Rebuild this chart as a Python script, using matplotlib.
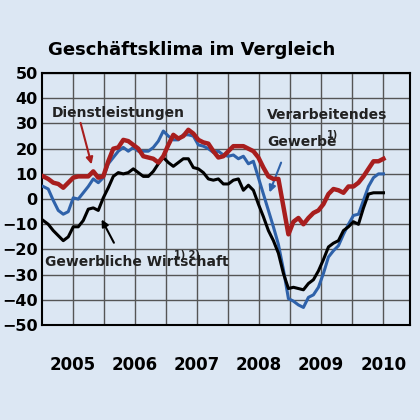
import numpy as np
import matplotlib.pyplot as plt

# monthly readings, Jan 2005 onward
dienst = [9, 8, 6.5, 6, 4.5, 6.5, 8.5, 9, 9, 9, 11, 8.5, 9, 15, 20, 20.5, 23.5, 23, 21.5, 20,
          17, 16.5, 16, 14.5, 17, 21.5, 25.5, 24, 25, 27.5, 26, 23.5, 22.5, 22, 19, 16.5, 17, 19,
          21, 21, 21, 20, 19, 16.5, 12.5, 9, 8, 8, -3, -14, -9, -7.5, -10, -7.5, -5.5, -4.5, -2,
          2, 4, 3.5, 2.5, 5, 5, 6.5, 9, 12, 15, 15, 16]
verarb = [5, 4, -0.5, -4.5, -6, -5, 0.5, 0, 2.5, 5, 8, 6.5, 8.5, 14, 16.5, 19, 20.5, 19, 20.5, 19,
          19, 19, 20.5, 23, 27, 25, 23.5, 23.5, 25.5, 25.5, 25, 21.5, 21, 20, 18.5, 19, 17.5, 17,
          17.5, 16, 17, 14, 15, 8.5, 2, -4.5, -11, -18, -28, -39.5, -40.5, -42, -43, -39, -38, -35,
          -29.5, -23, -20.5, -18.5, -14, -10, -6.5, -6, -0.5, 5, 8.5, 10, 10]
gewerb = [-8.5, -10, -12.5, -14.5, -16.5, -15, -11, -11, -8.5, -4, -3.5, -4.5, 0.5, 4.5, 9, 10.5,
          10, 10.5, 12, 10.5, 9, 9, 11, 14, 16.5, 14.5, 13, 14.5, 16, 16, 12.5, 12, 10.5, 8, 7.5,
          8, 6, 6, 7.5, 8, 3.5, 5.5, 3.5, -2, -7, -12.5, -16.5, -21.5, -29.5, -35.5, -35, -35.5,
          -36, -33.5, -32, -28.5, -24, -19, -17.5, -16.5, -12.5, -11, -9, -10, -3.5, 2, 2.5, 2.5, 2.5]
years = ["2005", "2006", "2007", "2008", "2009", "2010"]

x = 2005.02 + np.arange(len(dienst)) * 5 / 62
bg = "#dce7f3"

fig = plt.figure(figsize=(4.2, 4.2), dpi=100, facecolor=bg)
ax = fig.add_axes([0.1, 0.226, 0.876, 0.6], facecolor=bg)

ax.plot(x, verarb, color="#2f62aa", lw=2.2, zorder=3)
ax.plot(x, gewerb, color="black", lw=2.2, zorder=3)
ax.plot(x, dienst, color="#a81e1e", lw=3.2, zorder=4)

ax.set_xlim(2005.0, 2010.93)
ax.set_ylim(-50, 50)
ax.set_yticks(range(-50, 51, 10))
ax.set_xticks(np.arange(2005.5, 2010.6, 0.5), minor=True)
ax.set_xticks([2005.5 + i for i in range(len(years))])
ax.set_xticklabels(years)
ax.grid(True, which="both", color="#555555", lw=1.0)
ax.tick_params(axis="both", which="both", length=0)
ax.tick_params(axis="x", pad=22, labelsize=12)
ax.tick_params(axis="y", pad=3, labelsize=11.5)
for lab in ax.get_xticklabels() + ax.get_yticklabels():
    lab.set_fontweight("bold")
for s in ax.spines.values():
    s.set_linewidth(1.5)

fig.text(0.115, 0.87, "Geschäftsklima im Vergleich", fontsize=13, fontweight="bold")

tk = dict(fontsize=10, fontweight="bold", color="#222222")
sup = dict(fontsize=7, fontweight="bold", color="#222222")
ax.text(2005.16, 34, "Dienstleistungen", va="center", **tk)
ax.text(2008.63, 33.3, "Verarbeitendes", va="center", **tk)
ax.text(2008.63, 22.6, "Gewerbe", va="center", **tk)
ax.text(2009.6, 25.5, "1)", va="center", **sup)
ax.text(2005.05, -25, "Gewerbliche Wirtschaft", va="center", **tk)
ax.text(2007.12, -22, "1) 2)", va="center", **sup)

ax.annotate("", xy=(2005.81, 12.7), xytext=(2005.61, 31.3),
            arrowprops=dict(arrowstyle="-|>", color="#a81e1e", lw=1.5))
ax.annotate("", xy=(2008.65, 1.6), xytext=(2008.87, 15.5),
            arrowprops=dict(arrowstyle="-|>", color="#2f62aa", lw=1.5))
ax.annotate("", xy=(2005.94, -7.1), xytext=(2006.18, -18.3),
            arrowprops=dict(arrowstyle="-|>", color="black", lw=1.5))

fig.savefig("out.png", dpi=100, facecolor=bg)
